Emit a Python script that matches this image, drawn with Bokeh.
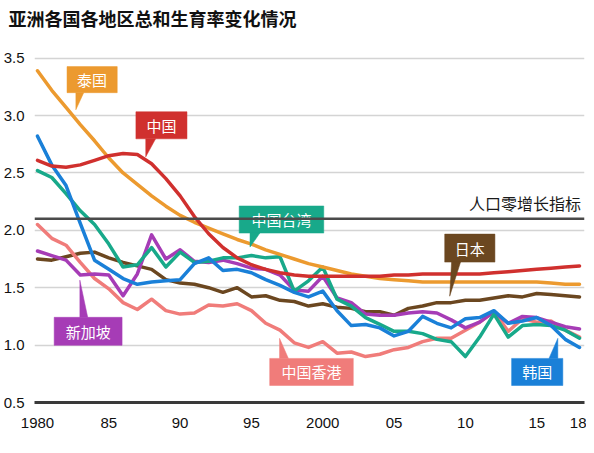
from bokeh.plotting import figure
from bokeh.models import FixedTicker, PrintfTickFormatter, Span, Title
from bokeh.core.properties import value
from bokeh.embed import file_html
from bokeh.resources import INLINE

# ---------------- data ----------------
years = list(range(1980, 2019))

thailand = [3.39, 3.22, 3.07, 2.92, 2.78, 2.63, 2.50, 2.40, 2.30, 2.21,
            2.13, 2.07, 2.02, 1.97, 1.92, 1.88, 1.83, 1.79, 1.75, 1.71,
            1.68, 1.65, 1.62, 1.60, 1.58, 1.57, 1.56, 1.55, 1.55, 1.55,
            1.55, 1.55, 1.55, 1.55, 1.55, 1.55, 1.54, 1.53, 1.53]
china = [2.61, 2.56, 2.55, 2.57, 2.61, 2.65, 2.67, 2.66, 2.58, 2.45,
         2.30, 2.12, 1.97, 1.85, 1.76, 1.70, 1.66, 1.63, 1.61, 1.60,
         1.60, 1.60, 1.60, 1.60, 1.60, 1.61, 1.61, 1.62, 1.62, 1.62,
         1.62, 1.62, 1.63, 1.64, 1.65, 1.66, 1.67, 1.68, 1.69]
taiwan = [2.52, 2.46, 2.32, 2.17, 2.05, 1.88, 1.68, 1.70, 1.85, 1.68,
          1.81, 1.72, 1.73, 1.76, 1.76, 1.78, 1.76, 1.77, 1.47, 1.56,
          1.68, 1.40, 1.34, 1.24, 1.18, 1.12, 1.12, 1.10, 1.05, 1.03,
          0.90, 1.07, 1.27, 1.07, 1.17, 1.18, 1.17, 1.13, 1.06]
korea = [2.82, 2.57, 2.39, 2.06, 1.74, 1.66, 1.58, 1.53, 1.55, 1.56,
         1.57, 1.71, 1.76, 1.65, 1.66, 1.63, 1.57, 1.52, 1.46, 1.42,
         1.47, 1.30, 1.17, 1.18, 1.15, 1.08, 1.12, 1.25, 1.19, 1.15,
         1.23, 1.24, 1.30, 1.19, 1.21, 1.24, 1.17, 1.05, 0.98]
singapore = [1.82, 1.78, 1.74, 1.61, 1.62, 1.61, 1.43, 1.62, 1.96, 1.75,
             1.83, 1.73, 1.72, 1.74, 1.71, 1.67, 1.66, 1.61, 1.48, 1.47,
             1.60, 1.41, 1.37, 1.27, 1.26, 1.26, 1.28, 1.29, 1.28, 1.22,
             1.15, 1.20, 1.29, 1.19, 1.25, 1.24, 1.20, 1.16, 1.14]
japan = [1.75, 1.74, 1.77, 1.80, 1.81, 1.76, 1.72, 1.69, 1.66, 1.57,
         1.54, 1.53, 1.50, 1.46, 1.50, 1.42, 1.43, 1.39, 1.38, 1.34,
         1.36, 1.33, 1.32, 1.29, 1.29, 1.26, 1.32, 1.34, 1.37, 1.37,
         1.39, 1.39, 1.41, 1.43, 1.42, 1.45, 1.44, 1.43, 1.42]
hongkong = [2.05, 1.93, 1.87, 1.72, 1.58, 1.49, 1.37, 1.31, 1.40, 1.30,
            1.27, 1.28, 1.35, 1.34, 1.36, 1.30, 1.19, 1.13, 1.02, 0.98,
            1.03, 0.93, 0.94, 0.90, 0.92, 0.96, 0.98, 1.03, 1.06, 1.06,
            1.13, 1.20, 1.29, 1.12, 1.23, 1.20, 1.21, 1.13, 1.07]

zero_growth = 2.1
y_ticks = [0.5, 1.0, 1.5, 2.0, 2.5, 3.0, 3.5]
x_ticks = [1980, 1985, 1990, 1995, 2000, 2005, 2010, 2015, 2018]
x_tick_labels = ["1980", "85", "90", "95", "2000", "05", "10", "15", "18"]

title_text = "亚洲各国各地区总和生育率变化情况"
zero_label = "人口零增长指标"

C_TH = "#EC9A2F"
C_CN = "#D0302E"
C_TW = "#18A98A"
C_KR = "#1A80D8"
C_SG = "#A63CB6"
C_JP = "#6B4720"
C_HK = "#F07C7A"

CJK = "Noto Sans CJK SC"
NUM = "Liberation Sans"

# ---------------- figure ----------------
p = figure(width=586, height=453, output_backend="svg", toolbar_location=None,
           title=None,
           x_range=(1979.79, 2018.35), y_range=(0.5, 3.61),
           min_border_left=26, min_border_right=2, min_border_top=45,
           min_border_bottom=51)
p.outline_line_color = None
p.background_fill_color = "white"
p.border_fill_color = "white"

# small blank spacer (closest to the plot) then the real title above it
p.add_layout(Title(text=" ", text_font_size="10px", standoff=2), "above")
p.add_layout(Title(text=title_text, align="left", offset=-26, text_font=CJK,
                   text_font_size="18px", text_font_style="bold",
                   text_color="#111111", standoff=0), "above")

p.xgrid.visible = False
p.ygrid.ticker = FixedTicker(ticks=y_ticks)
p.ygrid.grid_line_color = "#d4d4d4"
p.ygrid.grid_line_width = 1.5

p.yaxis.ticker = FixedTicker(ticks=y_ticks)
p.yaxis.formatter = PrintfTickFormatter(format="%.1f")
p.yaxis.axis_line_color = None
p.yaxis.major_tick_line_color = None
p.yaxis.minor_tick_line_color = None
p.yaxis.major_label_text_font = NUM
p.yaxis.major_label_text_font_size = "15px"
p.yaxis.major_label_text_color = "#111111"
p.yaxis.major_label_standoff = 4

p.xaxis.ticker = FixedTicker(ticks=x_ticks)
p.xaxis.major_label_overrides = {t: l for t, l in zip(x_ticks, x_tick_labels)}
p.xaxis.axis_line_color = "#3a3a3a"
p.xaxis.axis_line_width = 3
p.xaxis.major_tick_line_color = None
p.xaxis.minor_tick_line_color = None
p.xaxis.major_label_text_font = NUM
p.xaxis.major_label_text_font_size = "15px"
p.xaxis.major_label_text_color = "#111111"
p.xaxis.major_label_standoff = 9

# zero growth reference line
p.add_layout(Span(location=zero_growth, dimension="width",
                  line_color="#4a4a4a", line_width=2.5))

# ---------------- series ----------------
series = [
    (japan, C_JP), (hongkong, C_HK), (singapore, C_SG), (taiwan, C_TW),
    (korea, C_KR), (thailand, C_TH), (china, C_CN),
]
for vals, col in series:
    p.line(years, vals, line_color=col, line_width=3.5,
           line_join="round", line_cap="round")

# ---------------- callouts ----------------
# (text, colour, box x0, x1, y0(bottom), y1(top), pointer base xa, xb, base y, tip x, tip y)
callouts = [
    ("泰国", C_TH, 1982.07, 1985.59, 3.199, 3.426, 1982.69, 1983.24, 3.199, 1982.69, 3.050),
    ("中国", C_CN, 1986.90, 1990.48, 2.797, 3.033, 1987.59, 1988.28, 2.797, 1987.59, 2.640),
    ("中国台湾", C_TW, 1994.14, 2000.07, 1.976, 2.212, 1994.90, 1995.59, 1.976, 1994.90, 1.854),
    ("日本", C_JP, 2008.55, 2012.07, 1.723, 1.967, 2009.03, 2009.66, 1.723, 2008.90, 1.426),
    ("新加坡", C_SG, 1981.17, 1985.93, 0.998, 1.242, 1982.97, 1983.52, 1.242, 1982.97, 1.566),
    ("中国香港", C_HK, 1996.28, 2002.14, 0.648, 0.884, 1996.97, 1997.59, 0.884, 1996.97, 1.059),
    ("韩国", C_KR, 2013.24, 2016.83, 0.648, 0.884, 2015.86, 2016.48, 0.884, 2016.48, 1.059),
]
bx, by, tx, ty, cols, txt, cx, cy = [], [], [], [], [], [], [], []
for (t, c, x0, x1, y0, y1, xa, xb, yb, xt, yt) in callouts:
    bx.append([x0, x1, x1, x0])
    by.append([y0, y0, y1, y1])
    tx.append([xa, xb, xt])
    ty.append([yb, yb, yt])
    cols.append(c)
    txt.append(t)
    cx.append((x0 + x1) / 2)
    cy.append((y0 + y1) / 2)

p.patches(bx, by, fill_color=cols, line_color=cols, line_width=0.5)
p.patches(tx, ty, fill_color=cols, line_color=cols, line_width=0.5)
p.text(cx, cy, text=txt, text_color="white", text_font=value(CJK),
       text_font_size="15px", text_align="center", text_baseline="middle")

p.text([2018.1], [zero_growth + 0.035], text=[zero_label], text_color="#1a1a1a",
       text_font=value(CJK), text_font_size="16px", text_align="right",
       text_baseline="bottom")

open("out.html", "w").write(file_html(p, INLINE))
